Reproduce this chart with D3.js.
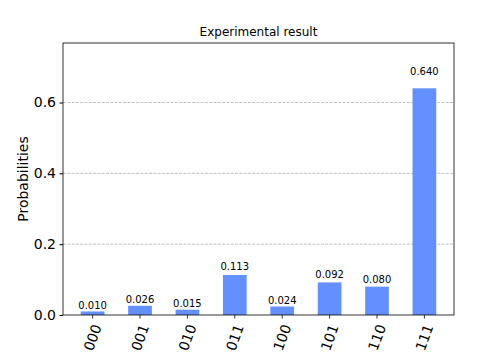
<!DOCTYPE html>
<html>
<head>
<meta charset="utf-8">
<script src="https://cdn.jsdelivr.net/npm/d3@7"></script>
<style>
  body { margin: 0; background: #fff; }
  svg { display: block; font-family: "DejaVu Sans", sans-serif; }
</style>
</head>
<body>
<div class="hist"></div>
<script>
const FRAME_WIDTH = 504;
const FRAME_HEIGHT = 360;
const MARGINS = {left: 63, right: 50, top: 43, bottom: 45};

// data
const states = ["000", "001", "010", "011", "100", "101", "110", "111"];
const probs = [0.010, 0.026, 0.015, 0.113, 0.024, 0.092, 0.080, 0.640];
const yTicks = [0.0, 0.2, 0.4, 0.6];
const TITLE = "Experimental result";
const Y_LABEL = "Probabilities";

const W = FRAME_WIDTH - MARGINS.left - MARGINS.right;
const H = FRAME_HEIGHT - MARGINS.top - MARGINS.bottom;

const FRAME = d3.select(".hist")
    .append("svg")
    .attr("width", FRAME_WIDTH)
    .attr("height", FRAME_HEIGHT);

const g = FRAME.append("g")
    .attr("transform", "translate(" + MARGINS.left + "," + MARGINS.top + ")");

// bar index scale, like matplotlib: bars of width 0.5 with 5% margins
const xIdx = d3.scaleLinear().domain([-0.625, states.length - 1 + 0.625]).range([0, W]);
const yScale = d3.scaleLinear().domain([0, d3.max(probs) * 1.2]).range([H, 0]);
const barW = xIdx(0.5) - xIdx(0);

// grid
g.selectAll(".grid")
    .data(yTicks.filter(t => t > 0))
    .enter().append("line")
    .attr("x1", 0).attr("x2", W)
    .attr("y1", d => yScale(d)).attr("y2", d => yScale(d))
    .attr("stroke", "#b0b0b0")
    .attr("stroke-width", 0.8)
    .attr("stroke-dasharray", "3,1.3");

// bars
g.selectAll(".bar")
    .data(probs)
    .enter().append("rect")
    .attr("class", "bar")
    .attr("x", (d, i) => xIdx(i) - barW / 2)
    .attr("y", d => yScale(d))
    .attr("width", barW)
    .attr("height", d => H - yScale(d))
    .attr("fill", "#648fff");

// value labels at 1.05 * height
g.selectAll(".val")
    .data(probs)
    .enter().append("text")
    .attr("x", (d, i) => xIdx(i))
    .attr("y", d => yScale(d * 1.05) - 2.5)
    .attr("text-anchor", "middle")
    .attr("font-size", "10px")
    .attr("fill", "#000")
    .text(d => d.toFixed(3));

// y axis
const yAxis = g.append("g")
    .call(d3.axisLeft(yScale).tickValues(yTicks).tickFormat(d3.format(".1f")).tickSize(3.5).tickPadding(3.5));
yAxis.selectAll("text").attr("font-size", "14px").attr("font-family", "DejaVu Sans").attr("fill", "#000");
yAxis.select(".domain").remove();

// x axis ticks
const xAxis = g.append("g")
    .attr("transform", "translate(0," + H + ")");
xAxis.selectAll("line")
    .data(states)
    .enter().append("line")
    .attr("x1", (d, i) => xIdx(i)).attr("x2", (d, i) => xIdx(i))
    .attr("y1", 0).attr("y2", 3.5)
    .attr("stroke", "#000").attr("stroke-width", 0.8);
xAxis.selectAll("text")
    .data(states)
    .enter().append("text")
    .attr("transform", (d, i) => "translate(" + xIdx(i) + ",22.5) rotate(-70)")
    .attr("text-anchor", "middle")
    .attr("dominant-baseline", "central")
    .attr("font-size", "14px")
    .attr("fill", "#000")
    .text(d => d);

// frame
g.append("rect")
    .attr("x", 0).attr("y", 0)
    .attr("width", W).attr("height", H)
    .attr("fill", "none")
    .attr("stroke", "#000")
    .attr("stroke-width", 0.8);

// title and label
FRAME.append("text")
    .attr("x", MARGINS.left + W / 2)
    .attr("y", MARGINS.top - 7)
    .attr("text-anchor", "middle")
    .attr("font-size", "12px")
    .text(TITLE);

FRAME.append("text")
    .attr("transform", "translate(28," + (MARGINS.top + H / 2) + ") rotate(-90)")
    .attr("text-anchor", "middle")
    .attr("font-size", "14px")
    .text(Y_LABEL);
</script>
</body>
</html>
